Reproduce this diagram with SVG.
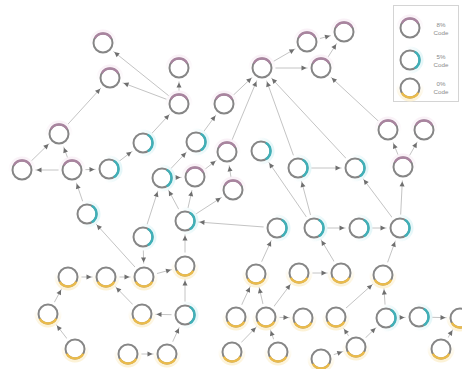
<svg xmlns="http://www.w3.org/2000/svg" width="462" height="369" viewBox="0 0 462 369">
<style>
.edge{stroke:#c4c4c4;stroke-width:1;fill:none;marker-end:url(#arr)}
.ring{fill:#fff;stroke:#868686;stroke-width:2}
.arcP{fill:none;stroke:#a9849f;stroke-width:2.3}
.arcT{fill:none;stroke:#3fb0b8;stroke-width:2.5}
.arcY{fill:none;stroke:#ebbb4a;stroke-width:2.5}
.lg{font-family:"Liberation Sans",Arial,sans-serif;font-size:6.2px;fill:#8a8a8a;text-anchor:middle}
.box{fill:#fff;stroke:#d4d4d4;stroke-width:1}
</style>
<defs>
<marker id="arr" markerUnits="userSpaceOnUse" markerWidth="5" markerHeight="5" refX="19.5" refY="2.5" orient="auto" overflow="visible"><path d="M0,0 L5,2.5 L0,5 z" fill="#6f6f6f"/></marker>
<linearGradient id="gP" x1="0" y1="0" x2="0" y2="1"><stop offset="0" stop-color="#f9f0f6"/><stop offset="0.6" stop-color="#fff"/></linearGradient>
<linearGradient id="gT" x1="0" y1="0" x2="1" y2="0"><stop offset="0.35" stop-color="#fff"/><stop offset="1" stop-color="#e3f6f8"/></linearGradient>
<linearGradient id="gY" x1="0" y1="0" x2="0" y2="1"><stop offset="0.35" stop-color="#fff"/><stop offset="1" stop-color="#fcf1d3"/></linearGradient>
<g id="tP"><circle r="13.5" fill="url(#gP)"/><circle r="9.5" class="ring"/><path class="arcP" d="M-8.23,-4.75 A9.5,9.5 0 0 1 8.23,-4.75"/></g>
<g id="tT"><circle r="13.5" fill="url(#gT)"/><circle r="9.5" class="ring"/><path class="arcT" d="M4.75,-8.23 A9.5,9.5 0 0 1 4.75,8.23"/></g>
<g id="tY"><circle r="13.5" fill="url(#gY)"/><circle r="9.5" class="ring"/><path class="arcY" d="M8.23,4.75 A9.5,9.5 0 0 1 -8.23,4.75"/></g>
</defs>
<rect width="462" height="369" fill="#fff"/>
<g id="connectors">
<line class="edge" x1="179" y1="104" x2="103" y2="43"/>
<line class="edge" x1="179" y1="104" x2="110" y2="78"/>
<line class="edge" x1="179" y1="104" x2="179" y2="68"/>
<line class="edge" x1="59" y1="134" x2="110" y2="78"/>
<line class="edge" x1="72" y1="170" x2="59" y2="134"/>
<line class="edge" x1="22" y1="170" x2="59" y2="134"/>
<line class="edge" x1="72" y1="170" x2="22" y2="170"/>
<line class="edge" x1="72" y1="170" x2="109" y2="169"/>
<line class="edge" x1="87" y1="214" x2="72" y2="170"/>
<line class="edge" x1="109" y1="169" x2="143" y2="143"/>
<line class="edge" x1="143" y1="143" x2="179" y2="104"/>
<line class="edge" x1="144" y1="277" x2="87" y2="214"/>
<line class="edge" x1="196" y1="142" x2="224" y2="104"/>
<line class="edge" x1="162" y1="178" x2="196" y2="142"/>
<line class="edge" x1="162" y1="178" x2="195" y2="177"/>
<line class="edge" x1="195" y1="177" x2="227" y2="152"/>
<line class="edge" x1="233" y1="190" x2="227" y2="152"/>
<line class="edge" x1="224" y1="104" x2="262" y2="68"/>
<line class="edge" x1="227" y1="152" x2="262" y2="68"/>
<line class="edge" x1="298" y1="168" x2="262" y2="68"/>
<line class="edge" x1="355" y1="168" x2="262" y2="68"/>
<line class="edge" x1="262" y1="68" x2="307" y2="42"/>
<line class="edge" x1="262" y1="68" x2="321" y2="68"/>
<line class="edge" x1="307" y1="42" x2="344" y2="32"/>
<line class="edge" x1="321" y1="68" x2="344" y2="32"/>
<line class="edge" x1="388" y1="130" x2="321" y2="68"/>
<line class="edge" x1="403" y1="167" x2="388" y2="130"/>
<line class="edge" x1="403" y1="167" x2="424" y2="130"/>
<line class="edge" x1="400" y1="228" x2="403" y2="167"/>
<line class="edge" x1="400" y1="228" x2="355" y2="168"/>
<line class="edge" x1="298" y1="168" x2="355" y2="168"/>
<line class="edge" x1="314" y1="228" x2="298" y2="168"/>
<line class="edge" x1="314" y1="228" x2="261" y2="151"/>
<line class="edge" x1="314" y1="228" x2="359" y2="228"/>
<line class="edge" x1="359" y1="228" x2="400" y2="228"/>
<line class="edge" x1="277" y1="228" x2="185" y2="221"/>
<line class="edge" x1="256" y1="274" x2="277" y2="228"/>
<line class="edge" x1="341" y1="273" x2="314" y2="228"/>
<line class="edge" x1="383" y1="275" x2="400" y2="228"/>
<line class="edge" x1="299" y1="273" x2="341" y2="273"/>
<line class="edge" x1="236" y1="317" x2="256" y2="274"/>
<line class="edge" x1="266" y1="317" x2="256" y2="274"/>
<line class="edge" x1="266" y1="317" x2="299" y2="273"/>
<line class="edge" x1="266" y1="317" x2="303" y2="318"/>
<line class="edge" x1="232" y1="352" x2="266" y2="317"/>
<line class="edge" x1="278" y1="352" x2="266" y2="317"/>
<line class="edge" x1="336" y1="317" x2="383" y2="275"/>
<line class="edge" x1="386" y1="318" x2="383" y2="275"/>
<line class="edge" x1="386" y1="318" x2="419" y2="317"/>
<line class="edge" x1="419" y1="317" x2="460" y2="318"/>
<line class="edge" x1="441" y1="349" x2="460" y2="318"/>
<line class="edge" x1="356" y1="347" x2="336" y2="317"/>
<line class="edge" x1="356" y1="347" x2="386" y2="318"/>
<line class="edge" x1="321" y1="359" x2="356" y2="347"/>
<line class="edge" x1="143" y1="237" x2="144" y2="277"/>
<line class="edge" x1="143" y1="237" x2="162" y2="178"/>
<line class="edge" x1="185" y1="221" x2="162" y2="178"/>
<line class="edge" x1="185" y1="221" x2="195" y2="177"/>
<line class="edge" x1="185" y1="221" x2="233" y2="190"/>
<line class="edge" x1="185" y1="266" x2="185" y2="221"/>
<line class="edge" x1="185" y1="315" x2="185" y2="266"/>
<line class="edge" x1="144" y1="277" x2="185" y2="266"/>
<line class="edge" x1="68" y1="277" x2="106" y2="277"/>
<line class="edge" x1="106" y1="277" x2="144" y2="277"/>
<line class="edge" x1="185" y1="315" x2="142" y2="314"/>
<line class="edge" x1="142" y1="314" x2="106" y2="277"/>
<line class="edge" x1="48" y1="314" x2="68" y2="277"/>
<line class="edge" x1="75" y1="349" x2="48" y2="314"/>
<line class="edge" x1="167" y1="354" x2="185" y2="315"/>
<line class="edge" x1="128" y1="354" x2="167" y2="354"/>
</g>
<g id="nA" transform="translate(103,43)"><use href="#tP"/></g>
<g id="nB" transform="translate(110,78)"><use href="#tP"/></g>
<g id="nC" transform="translate(179,68)"><use href="#tP"/></g>
<g id="nD" transform="translate(179,104)"><use href="#tP"/></g>
<g id="nE" transform="translate(59,134)"><use href="#tP"/></g>
<g id="nF" transform="translate(22,170)"><use href="#tP"/></g>
<g id="nG" transform="translate(72,170)"><use href="#tP"/></g>
<g id="nH" transform="translate(109,169)"><use href="#tT"/></g>
<g id="nI" transform="translate(143,143)"><use href="#tT"/></g>
<g id="nJ" transform="translate(224,104)"><use href="#tP"/></g>
<g id="nK" transform="translate(196,142)"><use href="#tT"/></g>
<g id="nL" transform="translate(162,178)"><use href="#tT"/></g>
<g id="nM" transform="translate(195,177)"><use href="#tP"/></g>
<g id="nN" transform="translate(227,152)"><use href="#tP"/></g>
<g id="nO" transform="translate(233,190)"><use href="#tP"/></g>
<g id="nP" transform="translate(262,68)"><use href="#tP"/></g>
<g id="nQ" transform="translate(307,42)"><use href="#tP"/></g>
<g id="nR" transform="translate(344,32)"><use href="#tP"/></g>
<g id="nS" transform="translate(321,68)"><use href="#tP"/></g>
<g id="nT" transform="translate(261,151)"><use href="#tT"/></g>
<g id="nU" transform="translate(298,168)"><use href="#tT"/></g>
<g id="nV" transform="translate(355,168)"><use href="#tT"/></g>
<g id="nW" transform="translate(388,130)"><use href="#tP"/></g>
<g id="nX" transform="translate(424,130)"><use href="#tP"/></g>
<g id="nY" transform="translate(403,167)"><use href="#tP"/></g>
<g id="nZ" transform="translate(87,214)"><use href="#tT"/></g>
<g id="nAA" transform="translate(143,237)"><use href="#tT"/></g>
<g id="nAB" transform="translate(185,221)"><use href="#tT"/></g>
<g id="nAC" transform="translate(277,228)"><use href="#tT"/></g>
<g id="nAD" transform="translate(314,228)"><use href="#tT"/></g>
<g id="nAE" transform="translate(359,228)"><use href="#tT"/></g>
<g id="nAF" transform="translate(400,228)"><use href="#tT"/></g>
<g id="nAG" transform="translate(68,277)"><use href="#tY"/></g>
<g id="nAH" transform="translate(106,277)"><use href="#tY"/></g>
<g id="nAI" transform="translate(144,277)"><use href="#tY"/></g>
<g id="nAJ" transform="translate(185,266)"><use href="#tY"/></g>
<g id="nAK" transform="translate(48,314)"><use href="#tY"/></g>
<g id="nAL" transform="translate(142,314)"><use href="#tY"/></g>
<g id="nAM" transform="translate(185,315)"><use href="#tT"/></g>
<g id="nAN" transform="translate(75,349)"><use href="#tY"/></g>
<g id="nAO" transform="translate(128,354)"><use href="#tY"/></g>
<g id="nAP" transform="translate(167,354)"><use href="#tY"/></g>
<g id="nAQ" transform="translate(256,274)"><use href="#tY"/></g>
<g id="nAR" transform="translate(299,273)"><use href="#tY"/></g>
<g id="nAS" transform="translate(341,273)"><use href="#tY"/></g>
<g id="nAT" transform="translate(383,275)"><use href="#tY"/></g>
<g id="nAU" transform="translate(236,317)"><use href="#tY"/></g>
<g id="nAV" transform="translate(266,317)"><use href="#tY"/></g>
<g id="nAW" transform="translate(303,318)"><use href="#tY"/></g>
<g id="nAX" transform="translate(336,317)"><use href="#tY"/></g>
<g id="nAY" transform="translate(386,318)"><use href="#tT"/></g>
<g id="nAZ" transform="translate(419,317)"><use href="#tT"/></g>
<g id="nBA" transform="translate(460,318)"><use href="#tY"/></g>
<g id="nBB" transform="translate(232,352)"><use href="#tY"/></g>
<g id="nBF" transform="translate(278,352)"><use href="#tY"/></g>
<g id="nBC" transform="translate(321,359)"><use href="#tY"/></g>
<g id="nBD" transform="translate(356,347)"><use href="#tY"/></g>
<g id="nBE" transform="translate(441,349)"><use href="#tY"/></g>
<g id="legend">
<rect class="box" x="393.5" y="5.5" width="65" height="96"/>
<g transform="translate(410,28)"><use href="#tP"/></g>
<g transform="translate(410,60)"><use href="#tT"/></g>
<g transform="translate(410,88)"><use href="#tY"/></g>
<text class="lg" x="441" y="27">8%</text><text class="lg" x="441" y="35">Code</text>
<text class="lg" x="441" y="59">5%</text><text class="lg" x="441" y="67">Code</text>
<text class="lg" x="441" y="86">0%</text><text class="lg" x="441" y="94">Code</text>
</g>
</svg>
